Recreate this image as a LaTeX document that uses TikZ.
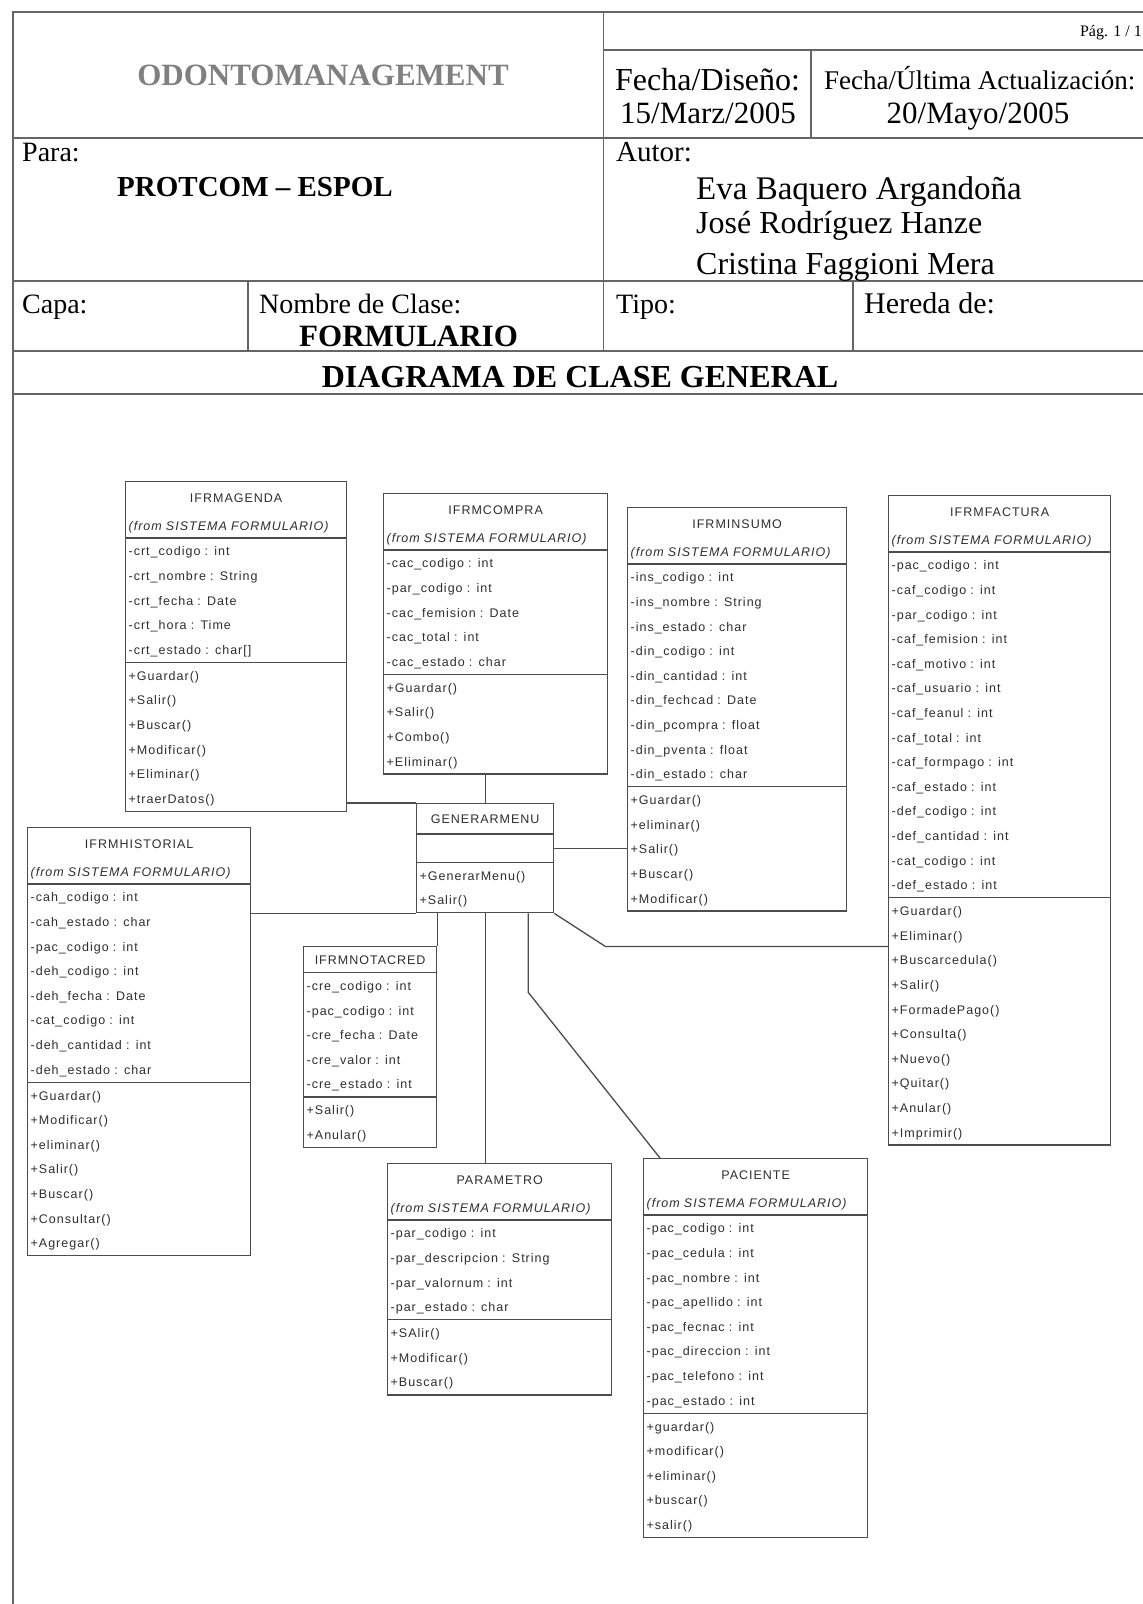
\documentclass[tikz,border=0pt]{standalone}
\usepackage{fontspec}
\setmainfont{Liberation Serif}
\newfontfamily\umlfont[LetterSpace=8]{Liberation Sans}
\usetikzlibrary{shapes.multipart}
\newcommand{\titlerow}{\rule[-9.5pt]{0pt}{29.5pt}}
\newcommand{\fila}{\\\strut}
\newcommand{\fromrow}{\fila\textit{(from SISTEMA FORMULARIO)}}
\tikzset{
  umlclass/.style={draw=black!70, line width=1.3pt, rectangle split, rectangle split parts=3,
    anchor=north west, inner xsep=3pt, inner ysep=0pt, align=left, text=black!82,
    font=\umlfont\fontsize{12.5}{24.6}\selectfont},
  hdr/.style={anchor=base west, font=\fontsize{31}{36}\selectfont},
  marco/.style={draw=black!60, line width=1.4pt},
  enlace/.style={draw=black!70, line width=1.3pt}
}
\begin{document}
\begin{tikzpicture}[x=1pt,y=-1pt]
    \tikzstyle{every node}+=[inner sep=0pt]
    \fill [white] (0,0) rectangle (1143,1604);
    \useasboundingbox (0,0) rectangle (1143,1604);
    \draw [marco] (1143,12) -- (13,12) -- (13,1604);
    \draw [marco] (603.5,12) -- (603.5,351);
    \draw [marco] (603.5,50) -- (1143,50);
    \draw [marco] (811,50) -- (811,138);
    \draw [marco] (13,138) -- (1143,138);
    \draw [marco] (13,281) -- (1143,281);
    \draw [marco] (248,281) -- (248,351);
    \draw [marco] (853,281) -- (853,351);
    \draw [marco] (13,351) -- (1143,351);
    \draw [marco] (13,394) -- (1143,394);
    \node [hdr, anchor=base east, font=\fontsize{16}{20}\selectfont] (pag) at (1142,36) {Pág. 1 / 1};
    \node [hdr, anchor=base, font=\fontsize{31}{36}\selectfont\bfseries, text=black!50] (titulo) at (323,85) {ODONTOMANAGEMENT};
    \node [hdr, font=\fontsize{32}{36}\selectfont] (fdis) at (615,90) {Fecha/Diseño:};
    \node [hdr] (fdisv) at (620,123) {15/Marz/2005};
    \node [hdr, font=\fontsize{27}{32}\selectfont] (fult) at (824,89) {Fecha/Última Actualización:};
    \node [hdr, anchor=base] (fultv) at (978,123) {20/Mayo/2005};
    \node [hdr, font=\fontsize{28}{34}\selectfont] (para) at (22,161) {Para:};
    \node [hdr, font=\fontsize{29}{34}\selectfont\bfseries] (protcom) at (117,196) {PROTCOM – ESPOL};
    \node [hdr, font=\fontsize{29}{34}\selectfont] (autor) at (616,161) {Autor:};
    \node [hdr, font=\fontsize{33}{36}\selectfont] (aut1) at (696,199) {Eva Baquero Argandoña};
    \node [hdr, font=\fontsize{32}{36}\selectfont] (aut2) at (696,233) {José Rodríguez Hanze};
    \node [hdr, font=\fontsize{32}{36}\selectfont] (aut3) at (696,274) {Cristina Faggioni Mera};
    \node [hdr, font=\fontsize{28}{34}\selectfont] (capa) at (22,313) {Capa:};
    \node [hdr, font=\fontsize{28}{34}\selectfont] (nombre) at (259,313) {Nombre de Clase:};
    \node [hdr, font=\fontsize{31}{36}\selectfont\bfseries] (formulario) at (299,346) {FORMULARIO};
    \node [hdr, font=\fontsize{28}{34}\selectfont] (tipo) at (616,313) {Tipo:};
    \node [hdr, font=\fontsize{30}{34}\selectfont] (hereda) at (864,313) {Hereda de:};
    \node [hdr, anchor=base, font=\fontsize{32}{40}\selectfont\bfseries] (diagrama) at (580,387.5) {DIAGRAMA DE CLASE GENERAL};
    \node [umlclass, text width=215pt] (agenda) at (125,481) {\centering\titlerow IFRMAGENDA\fromrow
      \nodepart{two}\strut-crt\_codigo : int\fila-crt\_nombre : String\fila-crt\_fecha : Date\fila-crt\_hora : Time\fila-crt\_estado : char[]
      \nodepart{three}\strut+Guardar()\fila+Salir()\fila+Buscar()\fila+Modificar()\fila+Eliminar()\fila+traerDatos()};
    \node [umlclass, text width=218pt] (compra) at (383,493) {\centering\titlerow IFRMCOMPRA\fromrow
      \nodepart{two}\strut-cac\_codigo : int\fila-par\_codigo : int\fila-cac\_femision : Date\fila-cac\_total : int\fila-cac\_estado : char
      \nodepart{three}\strut+Guardar()\fila+Salir()\fila+Combo()\fila+Eliminar()};
    \node [umlclass, text width=213pt] (insumo) at (627,507) {\centering\titlerow IFRMINSUMO\fromrow
      \nodepart{two}\strut-ins\_codigo : int\fila-ins\_nombre : String\fila-ins\_estado : char\fila-din\_codigo : int\fila-din\_cantidad : int\fila-din\_fechcad : Date\fila-din\_pcompra : float\fila-din\_pventa : float\fila-din\_estado : char
      \nodepart{three}\strut+Guardar()\fila+eliminar()\fila+Salir()\fila+Buscar()\fila+Modificar()};
    \node [umlclass, text width=216pt] (factura) at (888,495) {\centering\titlerow IFRMFACTURA\fromrow
      \nodepart{two}\strut-pac\_codigo : int\fila-caf\_codigo : int\fila-par\_codigo : int\fila-caf\_femision : int\fila-caf\_motivo : int\fila-caf\_usuario : int\fila-caf\_feanul : int\fila-caf\_total : int\fila-caf\_formpago : int\fila-caf\_estado : int\fila-def\_codigo : int\fila-def\_cantidad : int\fila-cat\_codigo : int\fila-def\_estado : int
      \nodepart{three}\strut+Guardar()\fila+Eliminar()\fila+Buscarcedula()\fila+Salir()\fila+FormadePago()\fila+Consulta()\fila+Nuevo()\fila+Quitar()\fila+Anular()\fila+Imprimir()};
    \node [umlclass, text width=131pt] (menu) at (416,803) {\centering\rule[-10pt]{0pt}{29pt}GENERARMENU\par
      \nodepart{two}\rule[-9pt]{0pt}{27pt}
      \nodepart{three}\strut+GenerarMenu()\fila+Salir()};
    \node [umlclass, text width=217pt] (historial) at (27,827) {\centering\titlerow IFRMHISTORIAL\fromrow
      \nodepart{two}\strut-cah\_codigo : int\fila-cah\_estado : char\fila-pac\_codigo : int\fila-deh\_codigo : int\fila-deh\_fecha : Date\fila-cat\_codigo : int\fila-deh\_cantidad : int\fila-deh\_estado : char
      \nodepart{three}\strut+Guardar()\fila+Modificar()\fila+eliminar()\fila+Salir()\fila+Buscar()\fila+Consultar()\fila+Agregar()};
    \node [umlclass, text width=127pt] (notacred) at (303,946) {\centering\strut IFRMNOTACRED\par
      \nodepart{two}\strut-cre\_codigo : int\fila-pac\_codigo : int\fila-cre\_fecha : Date\fila-cre\_valor : int\fila-cre\_estado : int
      \nodepart{three}\strut+Salir()\fila+Anular()};
    \node [umlclass, text width=218pt] (parametro) at (387,1163) {\centering\titlerow PARAMETRO\fromrow
      \nodepart{two}\strut-par\_codigo : int\fila-par\_descripcion : String\fila-par\_valornum : int\fila-par\_estado : char
      \nodepart{three}\strut+SAlir()\fila+Modificar()\fila+Buscar()};
    \node [umlclass, text width=218pt] (paciente) at (643,1158) {\centering\titlerow PACIENTE\fromrow
      \nodepart{two}\strut-pac\_codigo : int\fila-pac\_cedula : int\fila-pac\_nombre : int\fila-pac\_apellido : int\fila-pac\_fecnac : int\fila-pac\_direccion : int\fila-pac\_telefono : int\fila-pac\_estado : int
      \nodepart{three}\strut+guardar()\fila+modificar()\fila+eliminar()\fila+buscar()\fila+salir()};
    \draw [enlace] (menu.north west -| agenda.east) -- (menu.north west);
    \draw [enlace] ([xshift=-10pt]compra.south) -- ([xshift=-10pt]compra.south |- menu.north);
    \draw [enlace] ([yshift=13.5pt]menu.two split east) -- ([yshift=13.5pt]menu.two split east -| insumo.west);
    \draw [enlace] (menu.south west) -- (menu.south west -| historial.east);
    \draw [enlace] (notacred.north east |- menu.south) -- (notacred.north east);
    \draw [enlace] (menu.south) -- (menu.south |- parametro.north);
    \draw [enlace] ([xshift=-26pt]menu.south east) -- ++(0,79) -- ([xshift=17pt]paciente.north west);
    \draw [enlace] (menu.south east) -- ++(51,33) coordinate (codo) -- (codo -| factura.west);
\end{tikzpicture}
\end{document}
